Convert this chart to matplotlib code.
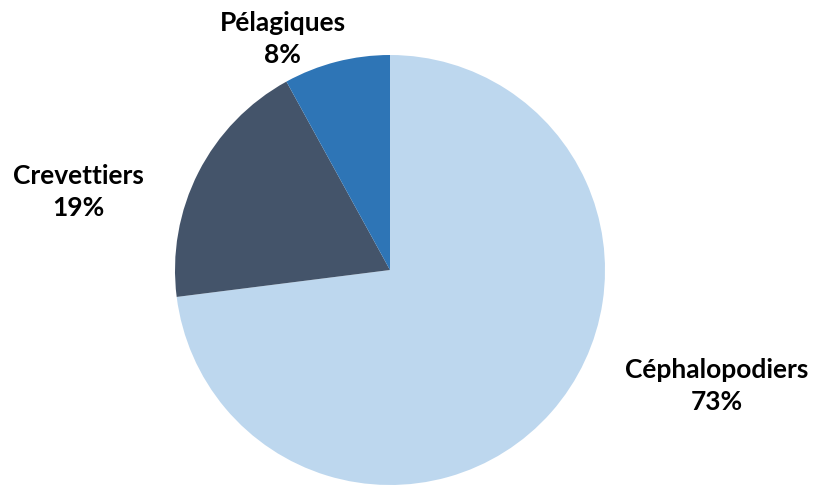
import matplotlib
matplotlib.use("Agg")
import matplotlib.pyplot as plt

categories = ["Céphalopodiers", "Crevettiers", "Pélagiques"]
shares = [73, 19, 8]
colors = ["#BDD7EE", "#44546A", "#2E75B6"]

# label anchor points (in pie radius units)
label_pos = [(1.521, -0.54), (-1.45, 0.365), (-0.50, 1.075)]

fig = plt.figure(figsize=(8.18, 4.86), dpi=100)
ax = fig.add_axes([0, 0, 1, 1])

ax.pie(shares, colors=colors, startangle=90, counterclock=False,
       radius=1, wedgeprops=dict(linewidth=0))

r_px = 215
cx, cy = 390, 270
ax.set_xlim(-cx / r_px, (818 - cx) / r_px)
ax.set_ylim(-(486 - cy) / r_px, cy / r_px)
ax.set_aspect("equal")
ax.axis("off")

for name, val, (x, y) in zip(categories, shares, label_pos):
    ax.text(x, y, f"{name}\n{val}%", ha="center", va="center",
            fontsize=19, fontweight="bold", family="Lato",
            color="black", linespacing=1.4)

fig.savefig("out.png", dpi=100)
